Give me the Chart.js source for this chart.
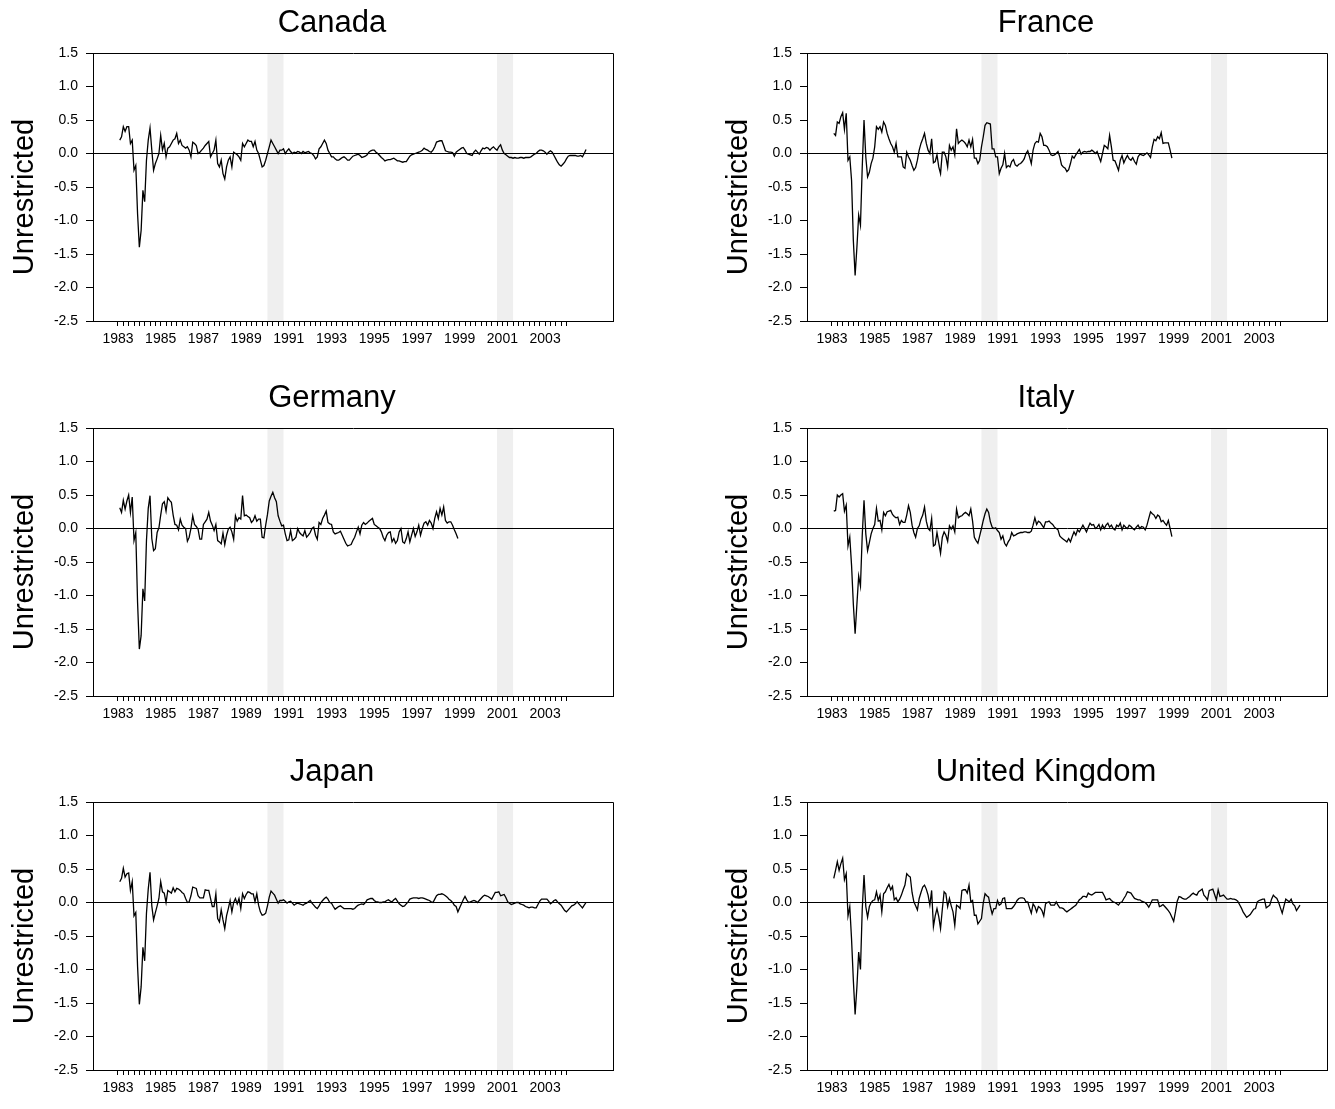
<!DOCTYPE html>
<html>
<head>
<meta charset="utf-8">
<script src="https://cdn.jsdelivr.net/npm/chart.js@4.4.1/dist/chart.umd.min.js"></script>
<style>
  html, body { margin: 0; padding: 0; background: #fff; overflow: hidden; width: 1335px; height: 1109px; }
  canvas { position: absolute; }
</style>
</head>
<body>
<script>
// monthly series, Feb 1983 onwards
var startYear = 1983 + 1 / 12;

var canada = [
  0.20, 0.25, 0.40, 0.33, 0.40, 0.40, 0.15, 0.20, -0.25, -0.18,
  -0.90, -1.40, -1.15, -0.55, -0.72, -0.10, 0.20, 0.38, 0.05, -0.25,
  -0.15, -0.08, 0.00, 0.27, 0.05, 0.15, -0.05, 0.08, 0.10, 0.15,
  0.20, 0.22, 0.30, 0.15, 0.20, 0.12, 0.10, 0.08, 0.10, 0.05,
  -0.05, 0.17, 0.15, 0.12, 0.00, 0.02, 0.05, 0.08, 0.12, 0.15,
  0.18, -0.05, 0.00, 0.05, 0.20, -0.15, -0.20, -0.10, -0.30, -0.38,
  -0.20, -0.10, -0.05, -0.20, 0.02, 0.00, -0.02, -0.05, -0.10, 0.15,
  0.10, 0.15, 0.20, 0.18, 0.18, 0.10, 0.18, 0.05, 0.00, -0.10,
  -0.20, -0.18, -0.10, 0.00, 0.10, 0.20, 0.15, 0.10, 0.05, 0.00,
  0.05, 0.05, 0.07, 0.00, 0.04, 0.07, 0.03, 0.00, 0.02, 0.01,
  0.03, 0.02, 0.00, 0.03, 0.01, 0.02, 0.03, 0.01, 0.00, -0.03,
  -0.08, -0.05, 0.07, 0.10, 0.15, 0.20, 0.15, 0.05, 0.00, -0.05,
  -0.05, -0.08, -0.10, -0.10, -0.08, -0.06, -0.05, -0.07, -0.10, -0.10,
  -0.07, -0.04, -0.03, -0.02, -0.01, -0.03, -0.06, -0.05, -0.04, -0.02,
  0.02, 0.04, 0.05, 0.05, 0.02, 0.00, -0.03, -0.06, -0.08, -0.11,
  -0.10, -0.09, -0.09, -0.08, -0.07, -0.09, -0.11, -0.11, -0.12, -0.13,
  -0.12, -0.12, -0.08, -0.04, -0.02, -0.01, 0.00, 0.01, 0.02, 0.03,
  0.05, 0.08, 0.06, 0.05, 0.03, 0.02, 0.05, 0.10, 0.17, 0.18,
  0.19, 0.19, 0.12, 0.04, 0.03, 0.02, 0.02, 0.015, -0.04, 0.02,
  0.04, 0.06, 0.08, 0.09, 0.05, 0.00, -0.01, -0.02, -0.03, 0.02,
  0.05, 0.02, -0.01, 0.04, 0.08, 0.07, 0.09, 0.08, 0.05, 0.08,
  0.10, 0.07, 0.05, 0.10, 0.13, 0.05, 0.00, -0.02, -0.04, -0.06,
  -0.06, -0.07, -0.06, -0.07, -0.07, -0.06, -0.06, -0.07, -0.06, -0.06,
  -0.06, -0.05, -0.03, -0.01, 0.00, 0.03, 0.05, 0.05, 0.04, 0.02,
  -0.01, 0.02, 0.04, 0.02, -0.03, -0.08, -0.13, -0.17, -0.19, -0.16,
  -0.13, -0.08, -0.04, -0.03, -0.03, -0.03, -0.03, -0.04, -0.04, -0.03,
  -0.05, 0.00, 0.06
];

var france = [
  0.30, 0.27, 0.47, 0.45, 0.55, 0.61, 0.36, 0.60, -0.10, -0.05,
  -0.40, -1.30, -1.82, -1.40, -0.92, -1.07, -0.20, 0.50, -0.05, -0.35,
  -0.28, -0.15, -0.07, 0.10, 0.40, 0.36, 0.40, 0.32, 0.47, 0.42,
  0.30, 0.22, 0.15, 0.10, 0.02, 0.15, -0.05, -0.05, -0.05, -0.20,
  -0.22, 0.02, -0.05, -0.10, -0.18, -0.25, -0.21, -0.10, 0.05, 0.15,
  0.22, 0.30, 0.15, 0.05, 0.00, 0.22, -0.14, -0.12, -0.02, -0.20,
  -0.30, 0.02, 0.02, -0.05, -0.20, 0.12, 0.05, 0.10, -0.02, 0.37,
  0.15, 0.18, 0.20, 0.18, 0.15, 0.10, 0.20, 0.10, 0.21, -0.07,
  -0.07, -0.15, -0.10, 0.10, 0.25, 0.42, 0.46, 0.45, 0.44, 0.07,
  0.07, -0.05, -0.05, -0.30, -0.22, -0.17, 0.00, -0.21, -0.18, -0.20,
  -0.12, -0.09, -0.17, -0.19, -0.16, -0.15, -0.12, -0.08, 0.00, 0.04,
  -0.05, -0.15, 0.05, 0.15, 0.18, 0.17, 0.30, 0.25, 0.12, 0.12,
  0.10, 0.05, -0.02, -0.03, -0.02, 0.00, 0.03, -0.05, -0.17, -0.20,
  -0.22, -0.27, -0.24, -0.15, -0.04, -0.07, -0.02, 0.02, 0.06, -0.01,
  0.02, 0.03, 0.02, 0.03, 0.03, 0.05, 0.03, 0.00, 0.03, -0.05,
  -0.12, 0.00, 0.12, 0.10, 0.07, 0.27, 0.10, -0.10, -0.11, -0.18,
  -0.25, -0.10, -0.03, -0.14, -0.08, -0.03, -0.08, -0.10, -0.06, -0.12,
  -0.16, -0.05, -0.01, -0.02, -0.03, -0.01, 0.01, -0.02, -0.06, 0.10,
  0.21, 0.19, 0.25, 0.22, 0.31, 0.15, 0.16, 0.16, 0.16, 0.05,
  -0.07
];

var germany = [
  0.31, 0.24, 0.42, 0.29, 0.41, 0.50, 0.24, 0.47, -0.18, -0.06,
  -1.10, -1.80, -1.60, -0.90, -1.08, -0.18, 0.30, 0.49, -0.15, -0.33,
  -0.30, -0.06, 0.01, 0.20, 0.37, 0.40, 0.26, 0.46, 0.42, 0.39,
  0.20, 0.06, 0.05, -0.02, 0.14, 0.05, 0.02, 0.00, -0.19, -0.13,
  0.00, 0.19, 0.06, 0.03, -0.01, -0.16, -0.16, 0.06, 0.10, 0.14,
  0.24, 0.11, 0.05, -0.03, 0.06, -0.18, -0.20, -0.23, -0.07, -0.24,
  -0.10, -0.01, 0.02, -0.05, -0.16, 0.19, 0.11, 0.16, 0.14, 0.49,
  0.19, 0.20, 0.18, 0.16, 0.09, 0.12, 0.19, 0.11, 0.14, 0.14,
  -0.13, -0.14, 0.05, 0.21, 0.41, 0.48, 0.54, 0.46, 0.40, 0.19,
  0.11, 0.04, 0.05, -0.08, -0.18, -0.17, -0.03, -0.18, -0.16, -0.13,
  0.00, -0.06, -0.09, -0.11, -0.03, -0.13, -0.10, -0.06, 0.00, 0.02,
  -0.10, -0.16, 0.09, 0.06, 0.15, 0.20, 0.26, 0.09, 0.07, 0.06,
  -0.05, -0.08, -0.07, -0.06, -0.04, -0.10, -0.16, -0.22, -0.26, -0.25,
  -0.24, -0.18, -0.13, -0.05, 0.02, -0.08, 0.05, 0.09, 0.06, 0.08,
  0.11, 0.13, 0.15, 0.06, 0.04, 0.02, 0.00, -0.05, -0.13, -0.18,
  -0.10, -0.06, -0.05, -0.20, -0.15, -0.22, -0.18, -0.05, 0.00, -0.20,
  -0.22, -0.15, -0.05, -0.20, -0.10, 0.00, -0.12, -0.05, 0.05, -0.10,
  0.00, 0.08, 0.10, 0.05, 0.12, 0.08, 0.00, 0.15, 0.25, 0.15,
  0.30, 0.20, 0.32, 0.12, 0.08, 0.10, 0.10, 0.05, -0.02, -0.08,
  -0.15
];

var italy = [
  0.26, 0.27, 0.50, 0.47, 0.50, 0.52, 0.26, 0.35, -0.26, -0.13,
  -0.55, -1.13, -1.57, -1.13, -0.71, -0.86, -0.10, 0.42, -0.08, -0.33,
  -0.21, -0.08, 0.00, 0.06, 0.30, 0.11, 0.12, -0.02, 0.24, 0.19,
  0.25, 0.26, 0.27, 0.21, 0.18, 0.16, 0.17, 0.06, 0.12, 0.09,
  0.09, 0.20, 0.34, 0.24, 0.05, -0.06, -0.13, 0.00, 0.04, 0.14,
  0.20, 0.32, 0.11, 0.00, -0.03, 0.15, -0.26, -0.24, -0.06, -0.21,
  -0.37, -0.13, -0.05, -0.10, -0.19, 0.04, -0.01, 0.04, -0.05, 0.29,
  0.16, 0.18, 0.19, 0.22, 0.24, 0.22, 0.19, 0.29, 0.11, -0.13,
  -0.18, -0.22, -0.11, 0.00, 0.12, 0.22, 0.29, 0.24, 0.10, 0.02,
  0.00, 0.01, -0.03, -0.06, -0.16, -0.11, -0.22, -0.26, -0.20, -0.16,
  -0.06, -0.11, -0.10, -0.08, -0.07, -0.06, -0.06, -0.05, -0.05, -0.06,
  -0.06, -0.04, 0.05, 0.16, 0.06, 0.11, 0.09, 0.05, 0.01, 0.10,
  0.10, 0.11, 0.08, 0.06, 0.02, 0.00, -0.02, -0.11, -0.14, -0.16,
  -0.18, -0.20, -0.15, -0.20, -0.12, -0.05, -0.10, -0.02, -0.05, 0.00,
  0.05, 0.00, -0.05, 0.02, 0.08, 0.05, 0.06, 0.00, 0.02, 0.06,
  -0.02, 0.05, 0.00, 0.05, 0.08, 0.02, 0.05, 0.00, -0.02, 0.05,
  0.03, 0.08, -0.02, 0.05, 0.02, 0.00, 0.05, 0.03, 0.00, -0.02,
  0.02, 0.05, 0.00, 0.03, 0.02, -0.02, 0.05, 0.15, 0.25, 0.22,
  0.20, 0.15, 0.20, 0.18, 0.10, 0.12, 0.08, 0.05, 0.12, 0.00,
  -0.12
];

var japan = [
  0.31, 0.36, 0.51, 0.38, 0.43, 0.44, 0.18, 0.31, -0.20, -0.15,
  -0.95, -1.52, -1.26, -0.67, -0.87, -0.16, 0.20, 0.45, -0.05, -0.26,
  -0.15, -0.05, 0.06, 0.31, 0.16, 0.14, 0.00, 0.18, 0.16, 0.14,
  0.22, 0.16, 0.21, 0.20, 0.18, 0.15, 0.13, 0.06, 0.00, 0.01,
  0.10, 0.23, 0.22, 0.21, 0.10, 0.07, 0.07, 0.07, 0.19, 0.18,
  0.18, 0.06, -0.06, -0.06, 0.13, -0.24, -0.29, -0.11, -0.26, -0.39,
  -0.20, -0.09, 0.03, -0.14, 0.00, 0.06, -0.02, 0.06, -0.09, 0.13,
  0.06, 0.12, 0.16, 0.15, 0.13, 0.13, 0.01, 0.13, -0.04, -0.14,
  -0.19, -0.18, -0.16, -0.05, 0.08, 0.17, 0.14, 0.11, 0.05, -0.01,
  0.03, 0.03, 0.04, 0.02, -0.01, 0.01, 0.02, -0.01, -0.04, -0.02,
  -0.01, -0.02, -0.03, -0.04, -0.02, -0.01, 0.01, 0.03, -0.01, -0.04,
  -0.07, -0.09, -0.05, 0.00, 0.03, 0.06, 0.08, 0.05, 0.00, -0.01,
  -0.06, -0.10, -0.08, -0.06, -0.05, -0.07, -0.09, -0.09, -0.09, -0.09,
  -0.09, -0.10, -0.09, -0.06, -0.04, -0.03, -0.02, -0.03, 0.00, 0.04,
  0.05, 0.06, 0.06, 0.03, 0.01, 0.01, 0.00, 0.00, 0.01, 0.01,
  0.03, 0.04, 0.02, 0.01, 0.04, 0.06, 0.02, -0.02, -0.04, -0.06,
  -0.05, -0.02, 0.01, 0.05, 0.06, 0.07, 0.07, 0.07, 0.06, 0.07,
  0.07, 0.06, 0.05, 0.04, 0.03, 0.01, 0.00, 0.05, 0.10, 0.12,
  0.12, 0.13, 0.12, 0.10, 0.08, 0.05, 0.03, 0.00, -0.04, -0.06,
  -0.14, -0.08, -0.02, 0.04, 0.09, 0.04, 0.00, 0.01, 0.02, 0.03,
  0.02, 0.00, 0.03, 0.06, 0.09, 0.11, 0.10, 0.09, 0.07, 0.05,
  0.10, 0.15, 0.15, 0.16, 0.10, 0.11, 0.12, 0.07, 0.01, -0.01,
  -0.03, -0.02, -0.01, 0.00, 0.00, -0.02, -0.03, -0.04, -0.06, -0.07,
  -0.08, -0.07, -0.07, -0.08, -0.08, -0.03, 0.02, 0.05, 0.05, 0.05,
  0.05, 0.02, -0.02, 0.00, 0.03, 0.04, 0.01, -0.02, -0.04, -0.08,
  -0.12, -0.14, -0.11, -0.08, -0.05, -0.04, -0.02, 0.01, -0.02, -0.05,
  -0.08, -0.04, 0.00
];

var uk = [
  0.36, 0.48, 0.61, 0.48, 0.58, 0.66, 0.34, 0.43, -0.20, -0.06,
  -0.55, -1.16, -1.67, -1.26, -0.74, -1.00, -0.10, 0.41, -0.06, -0.22,
  -0.06, 0.00, 0.03, 0.04, 0.16, 0.03, 0.11, -0.14, 0.13, 0.16,
  0.22, 0.27, 0.19, 0.24, 0.04, 0.07, 0.01, 0.05, 0.11, 0.19,
  0.26, 0.43, 0.40, 0.38, 0.15, 0.01, -0.05, -0.11, 0.06, 0.15,
  0.23, 0.26, 0.20, 0.11, -0.04, 0.18, -0.36, -0.20, -0.09, -0.21,
  -0.39, -0.10, 0.16, 0.13, -0.06, 0.06, -0.05, -0.14, -0.34, -0.04,
  -0.06, -0.09, 0.18, 0.19, 0.19, 0.14, 0.26, 0.01, 0.03, -0.19,
  -0.19, -0.32, -0.28, -0.24, -0.01, 0.13, 0.10, 0.08, -0.06, -0.17,
  -0.09, -0.09, 0.03, -0.04, -0.02, 0.06, 0.07, -0.09, -0.09, -0.09,
  -0.09, -0.06, -0.02, 0.03, 0.06, 0.07, 0.07, 0.06, 0.01, 0.01,
  -0.08, -0.16, -0.02, -0.06, -0.14, -0.06, -0.08, -0.12, -0.20, -0.02,
  0.00, 0.01, -0.04, -0.04, -0.04, 0.01, -0.04, -0.08, -0.08, -0.09,
  -0.12, -0.14, -0.12, -0.10, -0.08, -0.06, -0.04, 0.00, 0.04, 0.06,
  0.09, 0.09, 0.08, 0.14, 0.12, 0.11, 0.13, 0.15, 0.15, 0.15,
  0.15, 0.15, 0.10, 0.04, 0.05, 0.06, 0.03, 0.01, 0.00, -0.02,
  -0.04, 0.00, 0.01, 0.06, 0.10, 0.16, 0.15, 0.14, 0.10, 0.06,
  0.05, 0.04, 0.04, 0.02, 0.01, 0.00, -0.03, -0.07, -0.02, 0.04,
  0.04, 0.04, 0.04, -0.06, -0.05, -0.03, -0.06, -0.09, -0.12, -0.16,
  -0.22, -0.28, -0.14, 0.02, 0.09, 0.08, 0.06, 0.05, 0.05, 0.07,
  0.09, 0.12, 0.14, 0.12, 0.11, 0.16, 0.18, 0.20, 0.11, 0.08,
  0.04, 0.18, 0.19, 0.20, 0.12, 0.04, 0.19, 0.09, 0.10, 0.11,
  0.08, 0.05, 0.05, 0.06, 0.05, 0.05, 0.04, 0.02, -0.03, -0.08,
  -0.14, -0.18, -0.22, -0.20, -0.18, -0.14, -0.10, -0.09, 0.01, 0.03,
  0.04, 0.05, 0.05, -0.08, -0.06, -0.04, 0.05, 0.11, 0.08, 0.06,
  0.00, -0.08, -0.16, -0.05, 0.05, 0.03, 0.01, 0.05, -0.02, -0.05,
  -0.12, -0.08, -0.04
];

var countries = ['Canada', 'France', 'Germany', 'Italy', 'Japan', 'United Kingdom'];
var seriesList = [canada, france, germany, italy, japan, uk];

var yTicks = [-2.5, -2.0, -1.5, -1.0, -0.5, 0.0, 0.5, 1.0, 1.5];
var yearLabels = [1983, 1985, 1987, 1989, 1991, 1993, 1995, 1997, 1999, 2001, 2003];
var tickFrom = 1983, tickTo = 2004;          // quarterly minor ticks
var xMin = 1981.83, xMax = 2006.18;
var recessions = [[1990.0, 1990.75], [2000.75, 2001.5]];

var fontFamily = '"Liberation Sans", Arial, Helvetica, sans-serif';

var quarterTicks = [];
for (var q = tickFrom * 4; q <= tickTo * 4; q++) quarterTicks.push(q / 4);

var bandPlugin = {
  id: 'bands',
  beforeDraw: function (chart) {
    var ctx = chart.ctx, a = chart.chartArea, xs = chart.scales.x;
    ctx.save();
    ctx.fillStyle = '#efefef';
    recessions.forEach(function (r) {
      var x0 = xs.getPixelForValue(r[0]), x1 = xs.getPixelForValue(r[1]);
      ctx.fillRect(x0, a.top, x1 - x0, a.bottom - a.top);
    });
    ctx.restore();
  }
};

// box frame (top/right) plus panel title and y label
var framePlugin = {
  id: 'frame',
  afterDraw: function (chart, args, opts) {
    var ctx = chart.ctx, a = chart.chartArea;
    ctx.save();
    ctx.strokeStyle = '#000';
    ctx.lineWidth = 1;
    ctx.beginPath();
    ctx.moveTo(Math.round(a.left) + 0.5, Math.round(a.top) + 0.5);
    ctx.lineTo(Math.round(a.right) + 0.5, Math.round(a.top) + 0.5);
    ctx.lineTo(Math.round(a.right) + 0.5, Math.round(a.bottom) + 0.5);
    ctx.stroke();

    ctx.fillStyle = '#000';
    ctx.font = '31px ' + fontFamily;
    ctx.textAlign = 'center';
    ctx.textBaseline = 'alphabetic';
    ctx.fillText(opts.title, 332, 32);

    ctx.translate(33, 197);
    ctx.rotate(-Math.PI / 2);
    ctx.font = '29px ' + fontFamily;
    ctx.fillText('Unrestricted', 0, 0);
    ctx.restore();
  }
};

function makeChart(k, left, top) {
  var canvas = document.createElement('canvas');
  canvas.width = 620;
  canvas.height = 370;
  canvas.style.left = left + 'px';
  canvas.style.top = top + 'px';
  document.body.appendChild(canvas);

  var points = seriesList[k].map(function (v, i) {
    return { x: startYear + i / 12, y: v };
  });

  new Chart(canvas.getContext('2d'), {
    type: 'line',
    data: {
      datasets: [{
        data: points,
        borderColor: '#000',
        borderWidth: 1.3,
        pointRadius: 0,
        tension: 0,
        fill: false
      }]
    },
    options: {
      responsive: false,
      animation: false,
      devicePixelRatio: 1,
      layout: { padding: { left: 0, right: 7, top: 53, bottom: 0 } },
      plugins: {
        legend: { display: false },
        tooltip: { enabled: false },
        title: { display: false },
        frame: { title: countries[k] }
      },
      scales: {
        x: {
          type: 'linear',
          min: xMin,
          max: xMax,
          afterBuildTicks: function (s) {
            s.ticks = quarterTicks.map(function (v) { return { value: v }; });
          },
          afterFit: function (s) { s.height = 49; },
          ticks: {
            autoSkip: false,
            maxRotation: 0,
            padding: 5,
            color: '#000',
            font: { family: fontFamily, size: 14 },
            callback: function (v) {
              var y = Math.round(v);
              return (Math.abs(v - y) < 1e-6 && yearLabels.indexOf(y) >= 0) ? String(y) : '';
            }
          },
          grid: {
            drawOnChartArea: false,
            tickLength: 5,
            tickColor: '#000',
            color: 'rgba(0,0,0,0)'
          },
          border: { display: true, color: '#000', width: 1 }
        },
        y: {
          min: -2.5,
          max: 1.5,
          afterBuildTicks: function (s) {
            s.ticks = yTicks.map(function (v) { return { value: v }; });
          },
          afterFit: function (s) { s.width = 93; },
          ticks: {
            padding: 8,
            color: '#000',
            font: { family: fontFamily, size: 14 },
            callback: function (v) { return v.toFixed(1); }
          },
          grid: {
            tickLength: 7,
            tickColor: '#000',
            color: function (c) { return (c.tick && c.tick.value === 0) ? '#000' : 'rgba(0,0,0,0)'; }
          },
          border: { display: true, color: '#000', width: 1 }
        }
      }
    },
    plugins: [bandPlugin, framePlugin]
  });
}

for (var k = 0; k < 6; k++) {
  makeChart(k, (k % 2) * 714, Math.floor(k / 2) * 374.5);
}
</script>
</body>
</html>
